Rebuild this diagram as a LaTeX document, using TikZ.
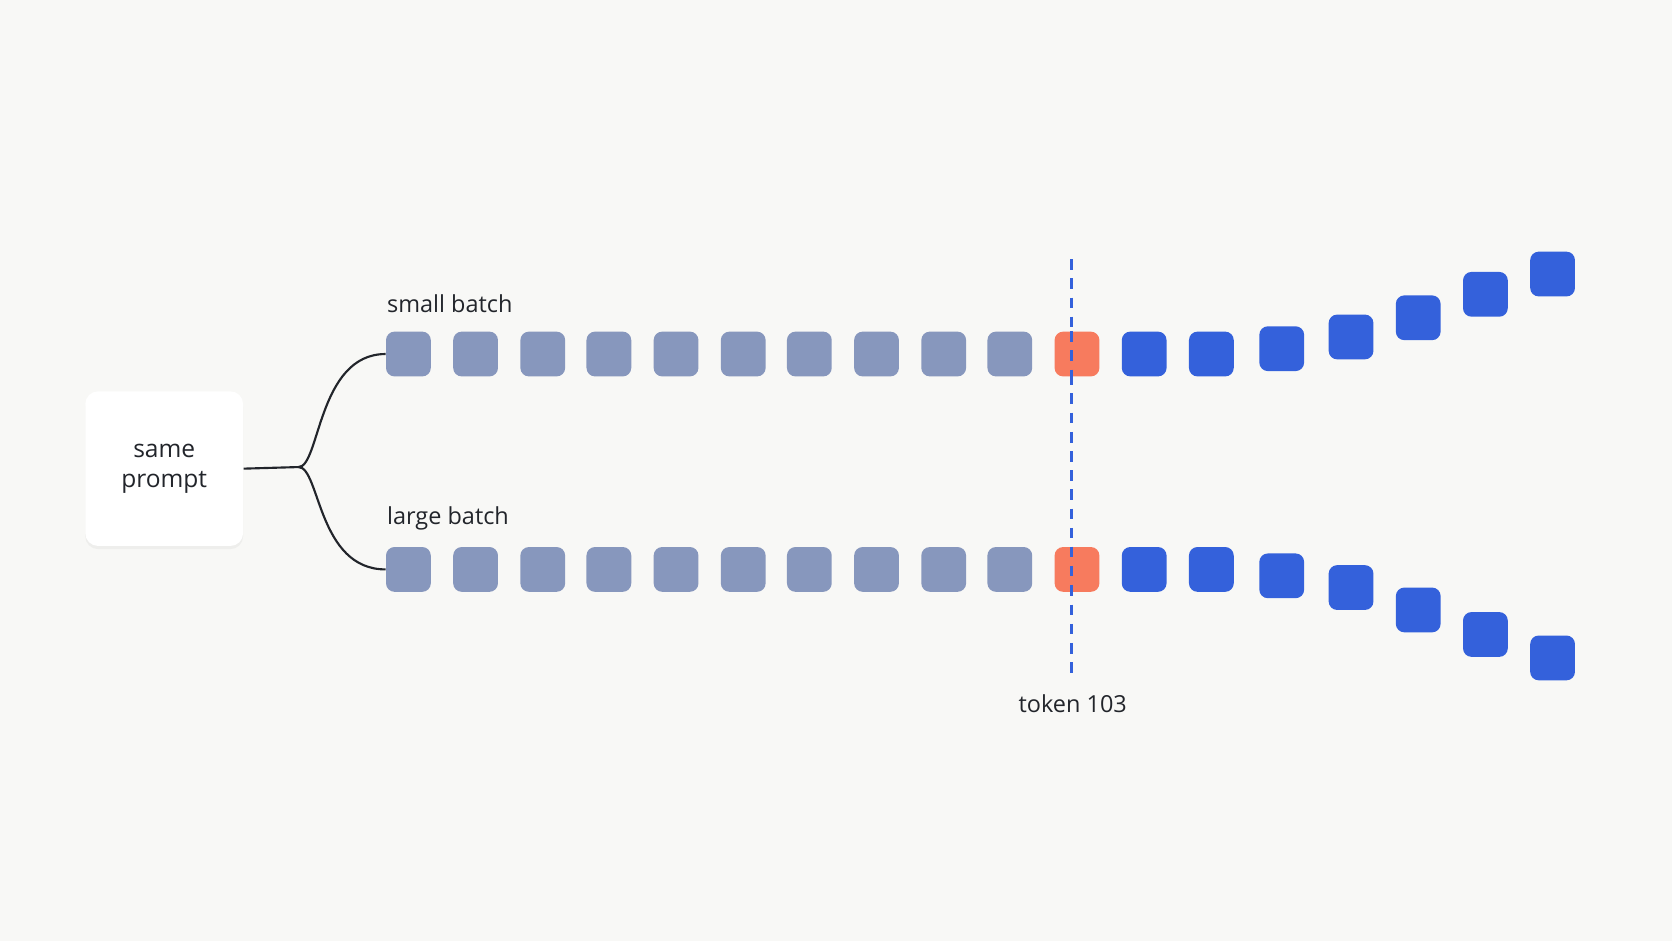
\documentclass[tikz,border=0pt]{standalone}
\usepackage{fontspec}
\setmainfont{Open Sans}
\usetikzlibrary{shadows}
\begin{document}
\begin{tikzpicture}[x=0.5pt,y=-0.5pt,
  sq/.style={rounded corners=4pt,minimum size=21pt,inner sep=0pt,draw=none},
  gr/.style={sq,fill=grayblue},
  bl/.style={sq,fill=tokblue},
  og/.style={sq,fill=tokorange},
  lbl/.style={font=\fontsize{11}{13}\selectfont\color{txt}}]
\definecolor{bg}{HTML}{F8F8F6}
\definecolor{grayblue}{HTML}{8797BD}
\definecolor{tokblue}{HTML}{3461DB}
\definecolor{tokorange}{HTML}{F77B5E}
\definecolor{txt}{HTML}{22252B}
\fill[bg] (0,0) rectangle (1568,882);
\useasboundingbox (0,0) rectangle (1568,882);
\node[fill=white,rounded corners=6pt,minimum width=74pt,minimum height=72.5pt,align=center,font=\fontsize{11.5}{14}\selectfont\color{txt},drop shadow={opacity=0.08,shadow xshift=0pt,shadow yshift=-1.5pt}] (p) at (154,439.5) {same\\prompt};
\foreach \x [count=\i] in {383,446,509,571,634,697,759,822,885,947}{
  \node[gr] (t\i) at (\x,332) {};
  \node[gr] (b\i) at (\x,534) {};
}
\coordinate (top) at (1005,243);
\coordinate (bot) at (1005,636);
\draw[tokblue,line width=1.3pt,dash pattern=on 5pt off 4pt] (top) -- (bot);
\node[og] (to) at (1010,332) {};
\node[og] (bo) at (1010,534) {};
\draw[tokblue,line width=1.3pt,dash pattern=on 5pt off 4pt] (to.north-|top) -- (to.south-|top);
\draw[tokblue,line width=1.3pt,dash pattern=on 5pt off 4pt] (bo.north-|top) -- (bo.south-|top);
\foreach \x/\y [count=\i] in {1073/332,1136/332,1202/327,1267/316,1330/298,1393/276,1456/257}{
  \node[bl] (tb\i) at (\x,\y) {};
}
\foreach \x/\y [count=\i] in {1073/534,1136/534,1202/540,1267/551,1330/572,1393/595,1456/617}{
  \node[bl] (bb\i) at (\x,\y) {};
}
\coordinate (j) at (280,438);
\draw[txt,line width=1pt] (p.east) -- (j) .. controls (300,438) and (298,332) .. (t1.west);
\draw[txt,line width=1pt] (j) .. controls (300,438) and (298,534) .. (b1.west);
\node[lbl,anchor=west] (ls) at (356,285) {small batch};
\node[lbl,anchor=west] (ll) at (356,486) {large batch};
\node[lbl] (lt) at (1006,660) {token 103};
\end{tikzpicture}
\end{document}
